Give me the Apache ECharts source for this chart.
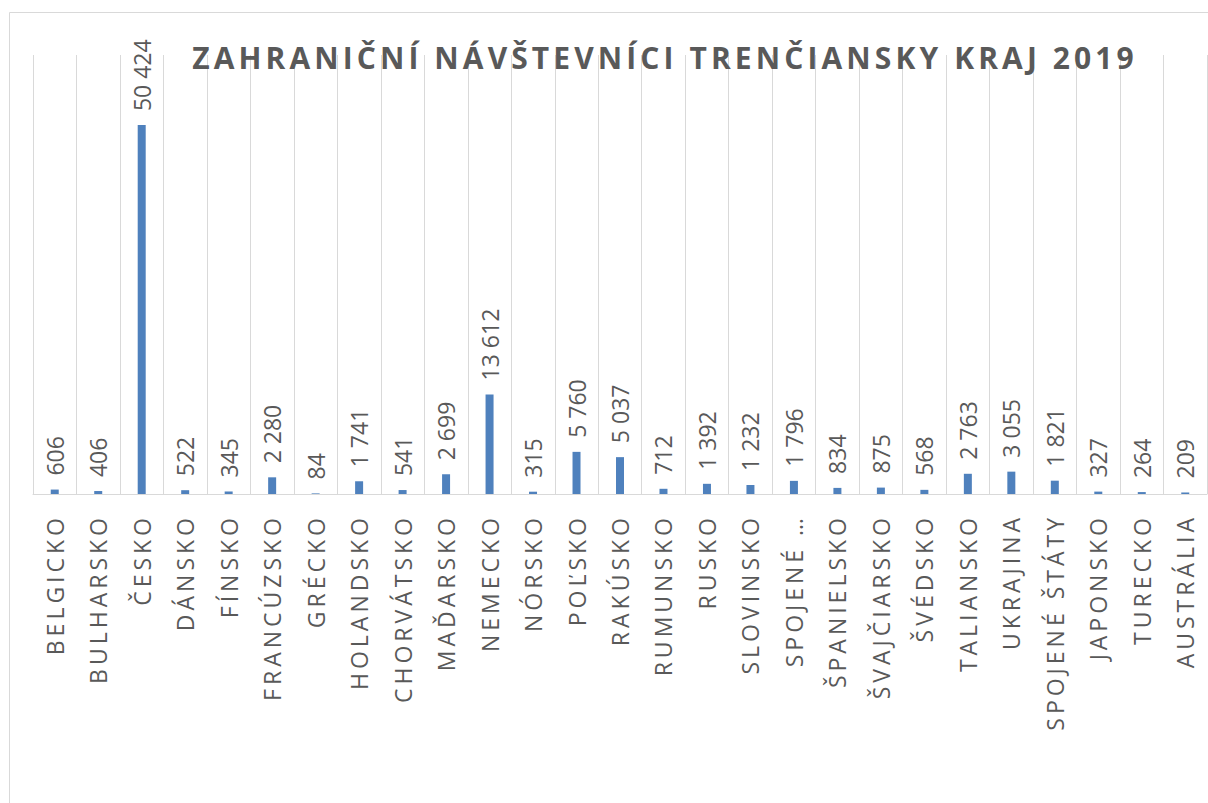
<!DOCTYPE html>
<html lang="sk">
<head>
    <meta charset="UTF-8">
    <title>Zahraniční návštevníci Trenčiansky kraj 2019</title>
    <script src="https://cdn.jsdelivr.net/npm/echarts@6/dist/echarts.min.js"></script>
    <style>
        html, body { margin: 0; padding: 0; background: #fff; }
        #main { width: 1208px; height: 803px; }
        /* rozostupy pismen ako v exceli */
        #main text { letter-spacing: 4px; }
        #main text[style*="30px"] { letter-spacing: 4.1px; }
        #main text[style*="sans-serif"] { letter-spacing: 0; }
    </style>
</head>
<body>
<div id="main"></div>
<script>
    // krajiny a pocty navstevnikov
    var krajiny = ['BELGICKO', 'BULHARSKO', 'ČESKO', 'DÁNSKO', 'FÍNSKO', 'FRANCÚZSKO', 'GRÉCKO',
        'HOLANDSKO', 'CHORVÁTSKO', 'MAĎARSKO', 'NEMECKO', 'NÓRSKO', 'POĽSKO', 'RAKÚSKO',
        'RUMUNSKO', 'RUSKO', 'SLOVINSKO', 'SPOJENÉ KRÁĽOVSTVO', 'ŠPANIELSKO', 'ŠVAJČIARSKO',
        'ŠVÉDSKO', 'TALIANSKO', 'UKRAJINA', 'SPOJENÉ ŠTÁTY', 'JAPONSKO', 'TURECKO', 'AUSTRÁLIA'];
    var navstevnici = [606, 406, 50424, 522, 345, 2280, 84, 1741, 541, 2699, 13612, 315, 5760, 5037,
        712, 1392, 1232, 1796, 834, 875, 568, 2763, 3055, 1821, 327, 264, 209];

    function cislo(v) {
        return String(v).replace(/\B(?=(\d{3})+(?!\d))/g, ' ');
    }

    var myChart = echarts.init(document.getElementById('main'), null, {renderer: 'svg'});
    var option = {
        backgroundColor: '#fff',
        animation: false,
        title: {
            text: 'ZAHRANIČNÍ NÁVŠTEVNÍCI TRENČIANSKY KRAJ 2019',
            left: 660,
            top: 37,
            textAlign: 'center',
            textStyle: {
                color: '#595959',
                fontFamily: 'Open Sans',
                fontWeight: 'bold',
                fontSize: 30
            }
        },
        graphic: [{
            type: 'rect',
            shape: {x: 9.5, y: 12.5, width: 1400, height: 1000},
            style: {fill: 'none', stroke: '#d9d9d9', lineWidth: 1},
            silent: true
        }],
        grid: {left: 33, right: 1, top: 55, bottom: 309},
        xAxis: {
            type: 'category',
            data: krajiny,
            axisLine: {lineStyle: {color: '#d9d9d9', width: 1}},
            axisTick: {show: false},
            splitLine: {show: true, lineStyle: {color: '#d9d9d9', width: 1}},
            axisLabel: {
                interval: 0,
                rotate: 90,
                margin: 20,
                color: '#595959',
                fontFamily: 'Open Sans',
                fontSize: 23,
                formatter: function (v) {
                    return v.length > 15 ? v.split(' ')[0] + ' …' : v;
                }
            }
        },
        yAxis: {
            type: 'value',
            min: 0,
            max: 60000,
            show: false,
            splitLine: {show: false}
        },
        series: [{
            type: 'bar',
            data: navstevnici,
            barWidth: 8,
            itemStyle: {color: '#4F81BD'},
            label: {
                show: true,
                position: 'top',
                rotate: 90,
                align: 'left',
                verticalAlign: 'middle',
                distance: 14,
                color: '#595959',
                fontFamily: 'Open Sans, sans-serif',
                fontSize: 23,
                formatter: function (p) { return cislo(p.value); }
            }
        }]
    };
    myChart.setOption(option);
</script>
</body>
</html>
